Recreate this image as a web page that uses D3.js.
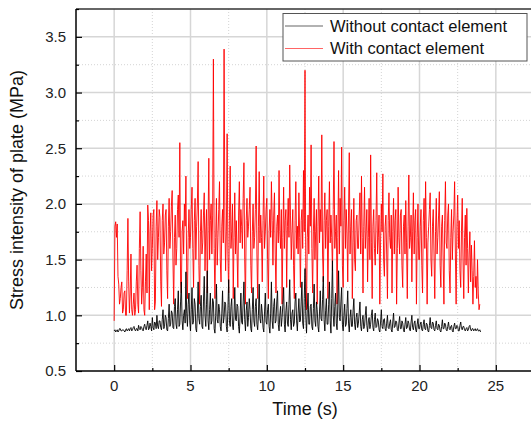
<!DOCTYPE html>
<html>
<head>
  <script src="https://cdnjs.cloudflare.com/ajax/libs/d3/7.8.5/d3.min.js" type="text/javascript"></script>
  <style>
    body { margin: 0; background: #fff; }
    text { font-family: "Liberation Sans", Arial, sans-serif; }
  </style>
</head>
<body>
  <svg id="chart" width="531" height="424"></svg>
  <script>

// sampling step of both records (s)
var dt = 0.05;

// stress intensity, with contact element (MPa), t = 0 .. 23.95, one row per second
var withContact = [
  0.95,1.80,1.84,1.70,1.82,1.35,1.28,1.10,1.15,1.25,1.30,1.02,1.05,1.20,1.22,1.00,1.00,1.40,1.87,1.30,
  1.02,1.20,1.55,1.05,1.00,1.10,1.20,1.00,1.05,1.30,1.45,1.10,1.02,1.60,1.93,1.40,1.10,1.25,1.62,1.05,
  1.00,1.30,1.55,1.20,1.99,1.85,1.05,1.75,1.92,1.40,1.60,1.90,1.95,1.05,1.12,1.80,2.03,1.50,1.70,1.95,
  1.88,1.30,1.08,1.85,2.00,1.55,1.65,1.90,1.95,1.40,1.15,1.80,2.05,1.60,1.75,1.98,2.12,1.50,1.10,1.70,
  1.90,1.45,1.60,1.95,2.08,1.70,2.55,1.30,1.20,1.75,1.85,1.55,2.00,1.80,2.25,1.40,1.15,1.70,1.95,1.60,
  1.70,1.95,2.15,1.60,1.25,1.85,2.05,1.50,1.80,2.00,2.38,1.45,1.10,1.75,1.95,1.55,1.65,1.90,2.10,1.40,
  1.75,1.95,1.20,1.80,2.41,1.50,1.85,2.00,1.55,1.90,3.30,1.60,1.15,1.70,2.05,1.45,1.70,1.95,2.20,1.50,
  1.30,1.80,1.95,1.65,3.39,1.90,1.40,1.75,2.63,1.55,1.20,1.85,2.34,1.60,1.75,2.00,1.15,1.70,2.10,1.55,
  1.85,1.55,1.25,1.90,2.20,1.65,1.95,1.80,1.60,2.05,2.37,1.50,1.10,1.85,2.05,1.70,1.80,1.95,2.15,1.45,
  1.20,1.75,2.00,1.60,1.70,1.95,2.52,1.55,1.15,1.80,2.29,1.65,1.90,1.70,1.30,1.85,2.25,1.60,1.75,1.95,
  2.05,1.50,1.15,1.75,1.95,1.70,2.20,1.85,1.45,1.90,2.10,1.55,1.20,1.80,1.90,1.65,2.30,1.75,1.60,1.95,
  1.10,1.70,2.15,1.60,1.85,1.95,1.25,1.80,2.05,1.70,2.35,1.90,1.50,1.75,1.95,1.45,1.15,1.85,2.20,1.60,
  1.80,1.55,2.10,1.70,1.25,1.85,1.95,1.60,2.30,1.75,3.20,1.40,1.05,1.70,1.90,1.55,2.15,1.80,2.53,1.60,
  1.20,1.75,2.05,1.50,1.75,1.95,1.10,1.80,2.25,1.65,1.95,1.75,2.62,1.55,1.30,1.85,2.10,1.60,1.85,1.95,
  1.15,1.80,2.20,1.65,1.90,1.70,1.40,1.95,2.56,1.60,1.75,1.90,1.10,1.70,2.30,1.55,2.05,1.80,2.51,1.45,
  1.25,1.85,2.15,1.60,1.95,1.75,1.30,1.90,2.46,1.55,1.80,1.95,1.15,1.65,2.05,1.50,1.40,1.85,1.90,1.60,
  1.60,1.90,2.10,1.55,2.25,1.70,1.20,1.80,2.15,1.60,1.75,1.95,1.30,1.70,2.05,1.50,2.44,1.65,1.15,1.80,
  1.95,1.60,1.45,1.85,2.28,1.55,1.70,1.90,1.10,1.65,2.00,1.75,2.27,1.50,1.35,1.80,1.90,1.55,1.15,1.85,
  2.10,1.70,1.60,1.90,1.20,1.75,2.05,1.55,1.85,1.95,1.10,1.60,2.15,1.70,1.55,1.90,1.95,1.45,1.25,1.80,
  1.90,1.55,2.03,1.65,1.15,1.80,2.26,1.60,1.70,1.90,1.30,1.75,2.10,1.55,1.85,1.95,1.10,1.70,2.00,1.50,
  1.50,1.80,1.95,1.45,1.20,1.85,2.05,1.60,2.20,1.70,1.10,1.65,1.80,1.95,2.10,1.50,1.35,1.80,1.95,1.55,
  1.15,1.75,2.05,1.55,1.70,1.90,2.11,1.45,1.25,1.80,1.90,1.50,1.10,1.85,2.20,1.65,1.60,1.90,2.00,1.40,
  1.20,1.70,1.95,1.50,1.75,1.90,2.20,1.55,1.10,1.80,2.08,1.60,1.85,1.40,1.25,1.75,2.05,1.50,1.15,1.70,
  1.90,1.45,1.96,1.60,1.20,1.55,1.75,1.30,1.63,1.40,1.10,1.35,1.67,1.25,1.35,1.15,1.50,1.20,1.05,1.10
];

// stress intensity, without contact element (MPa), t = 0 .. 24.0, one row per second
var withoutContact = [
  0.86,0.87,0.85,0.86,0.87,0.85,0.86,0.88,0.88,0.86,0.86,0.87,0.87,0.86,0.85,0.87,0.88,0.86,0.87,0.88,
  0.86,0.88,0.89,0.86,0.87,0.89,0.90,0.87,0.86,0.88,0.88,0.86,0.91,0.88,0.87,0.90,0.89,0.87,0.86,0.90,
  0.92,0.88,0.87,0.91,0.95,0.87,0.88,0.93,0.90,0.86,0.98,0.89,0.87,0.94,0.93,0.88,1.00,0.90,0.88,0.95,
  0.95,0.89,0.87,0.96,1.05,0.88,0.90,1.00,0.98,0.87,0.86,0.97,1.10,0.90,0.92,1.04,1.02,0.89,0.88,1.08,
  1.15,0.92,0.88,1.05,1.22,0.90,0.92,1.12,1.30,0.95,0.87,1.00,1.05,0.93,1.39,1.02,0.90,1.10,1.20,0.95,
  0.86,1.05,1.25,0.92,0.95,1.15,1.10,0.88,0.85,1.02,1.30,0.97,0.92,1.08,1.18,0.90,0.88,1.12,1.35,1.00,
  0.90,1.10,1.40,0.95,0.87,1.05,1.20,0.92,0.95,1.15,1.12,0.88,0.84,1.00,1.28,0.96,0.93,1.10,1.05,0.90,
  0.86,1.02,1.22,0.93,0.98,1.12,1.10,0.90,0.85,1.05,1.32,0.95,0.90,1.08,1.15,0.92,0.87,1.00,1.25,0.96,
  0.95,1.10,1.08,0.90,0.84,1.00,1.20,0.94,0.92,1.12,1.30,0.96,0.86,1.04,1.12,0.90,0.98,1.15,1.05,0.88,
  0.85,1.05,1.25,0.95,0.90,1.08,1.15,0.92,0.87,1.00,1.28,0.97,0.93,1.10,1.02,0.89,0.85,1.03,1.20,0.94,
  0.92,1.05,1.10,0.90,0.84,1.02,1.30,0.95,0.88,1.08,1.15,0.93,0.95,1.12,1.22,0.92,0.86,1.00,1.08,0.90,
  0.98,1.10,1.25,0.92,0.85,1.04,1.12,0.93,0.90,1.10,1.32,0.96,0.87,1.02,1.05,0.90,0.93,1.12,1.20,0.95,
  0.86,1.02,1.15,0.94,0.95,1.12,1.30,0.93,0.88,1.15,1.42,1.00,0.84,1.05,1.20,0.92,0.92,1.08,1.10,0.90,
  0.87,1.06,1.28,0.95,0.90,1.12,1.05,0.90,0.85,1.03,1.22,0.97,0.95,1.14,1.35,0.96,0.86,1.04,1.15,0.92,
  0.92,1.10,1.30,0.95,0.84,1.15,1.49,1.00,0.90,1.08,1.20,0.93,0.87,1.10,1.40,0.98,0.95,1.12,1.25,0.92,
  0.86,1.00,1.10,0.90,0.92,1.06,1.22,0.93,0.85,0.98,1.05,0.90,0.90,1.04,1.15,0.92,0.87,0.98,1.02,0.89,
  0.93,1.02,1.12,0.90,0.86,0.96,1.00,0.88,0.90,1.00,1.08,0.91,0.85,0.95,0.98,0.88,0.92,1.00,1.05,0.89,
  0.86,0.96,1.02,0.89,0.90,0.97,0.95,0.87,0.85,0.94,1.05,0.90,0.88,0.96,0.97,0.88,0.86,0.93,1.00,0.89,
  0.88,0.93,0.96,0.87,0.85,0.94,1.02,0.89,0.90,0.95,0.94,0.87,0.86,0.93,0.99,0.88,0.88,0.95,0.93,0.87,
  0.85,0.92,0.98,0.88,0.89,0.95,0.93,0.87,0.86,0.94,1.00,0.89,0.87,0.93,0.95,0.87,0.85,0.92,0.97,0.88,
  0.88,0.92,0.94,0.87,0.86,0.92,0.96,0.88,0.87,0.93,0.92,0.86,0.85,0.91,0.98,0.89,0.88,0.94,0.93,0.87,
  0.86,0.91,0.95,0.88,0.87,0.92,0.91,0.86,0.85,0.90,0.96,0.88,0.88,0.93,0.92,0.87,0.86,0.90,0.94,0.88,
  0.87,0.90,0.91,0.86,0.85,0.90,0.93,0.88,0.88,0.91,0.90,0.86,0.86,0.91,0.94,0.88,0.87,0.90,0.90,0.87,
  0.86,0.88,0.89,0.86,0.87,0.90,0.91,0.87,0.86,0.88,0.88,0.86,0.87,0.88,0.86,0.87,0.88,0.86,0.86,0.87,
  0.85
];

var xTicks = [0, 5, 10, 15, 20, 25];
var yTicks = [0.5, 1.0, 1.5, 2.0, 2.5, 3.0, 3.5];
var xMinor = [2.5, 7.5, 12.5, 17.5, 22.5];
var yMinor = [0.75, 1.25, 1.75, 2.25, 2.75, 3.25, 3.75];
var seriesNames = ["Without contact element", "With contact element"];

var svg = d3.select("#chart");
var plotL = 76, plotR = 534, plotT = 9, plotB = 371;

var x = d3.scaleLinear().domain([-2.5, 27.5]).range([plotL, plotR]);
var y = d3.scaleLinear().domain([0.5, 3.75]).range([plotB, plotT]);

// minor grid (dotted)
svg.append("g").selectAll("line").data(xMinor).enter().append("line")
  .attr("x1", function(d) { return x(d); }).attr("x2", function(d) { return x(d); })
  .attr("y1", plotT).attr("y2", plotB)
  .attr("stroke", "#d4d4d4").attr("stroke-width", 1).attr("stroke-dasharray", "1,2");
svg.append("g").selectAll("line").data(yMinor.slice(0, -1)).enter().append("line")
  .attr("x1", plotL).attr("x2", plotR)
  .attr("y1", function(d) { return y(d); }).attr("y2", function(d) { return y(d); })
  .attr("stroke", "#d4d4d4").attr("stroke-width", 1).attr("stroke-dasharray", "1,2");

// major grid
svg.append("g").selectAll("line").data(xTicks).enter().append("line")
  .attr("x1", function(d) { return x(d); }).attr("x2", function(d) { return x(d); })
  .attr("y1", plotT).attr("y2", plotB)
  .attr("stroke", "#d6d6d6").attr("stroke-width", 1.5);
svg.append("g").selectAll("line").data(yTicks.slice(1)).enter().append("line")
  .attr("x1", plotL).attr("x2", plotR)
  .attr("y1", function(d) { return y(d); }).attr("y2", function(d) { return y(d); })
  .attr("stroke", "#d6d6d6").attr("stroke-width", 1.5);

// series
var line = d3.line()
  .x(function(d, i) { return x(i * dt); })
  .y(function(d) { return y(d); });

svg.append("path").datum(withContact)
  .attr("d", line).attr("fill", "none")
  .attr("stroke", "#ff0000").attr("stroke-width", 0.9);
svg.append("path").datum(withoutContact)
  .attr("d", line).attr("fill", "none")
  .attr("stroke", "#000").attr("stroke-width", 0.9);

// frame top
svg.append("line").attr("x1", plotL).attr("x2", plotR).attr("y1", plotT).attr("y2", plotT)
  .attr("stroke", "#333").attr("stroke-width", 1.5);

// axes, ticks pointing inward
var gx = svg.append("g").attr("transform", "translate(0," + plotB + ")");
gx.call(d3.axisTop(x).tickValues(xTicks).tickSize(6).tickFormat(""));
gx.append("g").call(d3.axisTop(x).tickValues(xMinor).tickSize(3).tickFormat(""));
gx.selectAll("path.domain").remove();
gx.append("line").attr("x1", plotL).attr("x2", plotR).attr("stroke", "#000").attr("stroke-width", 1.5);
gx.selectAll(".tick line").attr("stroke", "#000").attr("stroke-width", 1.2);

var gy = svg.append("g").attr("transform", "translate(" + plotL + ",0)");
gy.call(d3.axisRight(y).tickValues(yTicks).tickSize(6).tickFormat(""));
gy.append("g").call(d3.axisRight(y).tickValues(yMinor).tickSize(3).tickFormat(""));
gy.selectAll("path.domain").remove();
gy.append("line").attr("y1", plotT).attr("y2", plotB).attr("stroke", "#000").attr("stroke-width", 1.5);
gy.selectAll(".tick line").attr("stroke", "#000").attr("stroke-width", 1.2);

// tick labels
svg.append("g").selectAll("text").data(xTicks).enter().append("text")
  .attr("x", function(d) { return x(d); }).attr("y", 391)
  .attr("text-anchor", "middle").attr("font-size", 15).attr("fill", "#222")
  .text(function(d) { return d; });
svg.append("g").selectAll("text").data(yTicks).enter().append("text")
  .attr("x", 66).attr("y", function(d) { return y(d); }).attr("dy", "0.36em")
  .attr("text-anchor", "end").attr("font-size", 15).attr("fill", "#222")
  .text(function(d) { return d3.format(".1f")(d); });

// axis titles
svg.append("text").attr("x", (plotL + plotR) / 2).attr("y", 415)
  .attr("text-anchor", "middle").attr("font-size", 18).attr("fill", "#111")
  .text("Time (s)");
svg.append("text")
  .attr("transform", "translate(23," + (plotT + plotB) / 2 + ") rotate(-90)")
  .attr("text-anchor", "middle").attr("font-size", 18).attr("fill", "#111")
  .text("Stress intensity of plate (MPa)");

// legend
var lg = svg.append("g");
lg.append("rect").attr("x", 283).attr("y", 13.5).attr("width", 244).attr("height", 47.5)
  .attr("fill", "#fff").attr("stroke", "#555").attr("stroke-width", 1);
var legendColors = ["#000", "#ff0000"];
seriesNames.forEach(function(name, i) {
  var ly = 26 + i * 22.5;
  lg.append("line").attr("x1", 285).attr("x2", 323).attr("y1", ly).attr("y2", ly)
    .attr("stroke", legendColors[i]).attr("stroke-width", 1).attr("opacity", 0.6);
  lg.append("text").attr("x", 330).attr("y", ly).attr("dy", "0.36em")
    .attr("font-size", 16.5).attr("fill", "#111").text(name);
});
  </script>
</body>
</html>
